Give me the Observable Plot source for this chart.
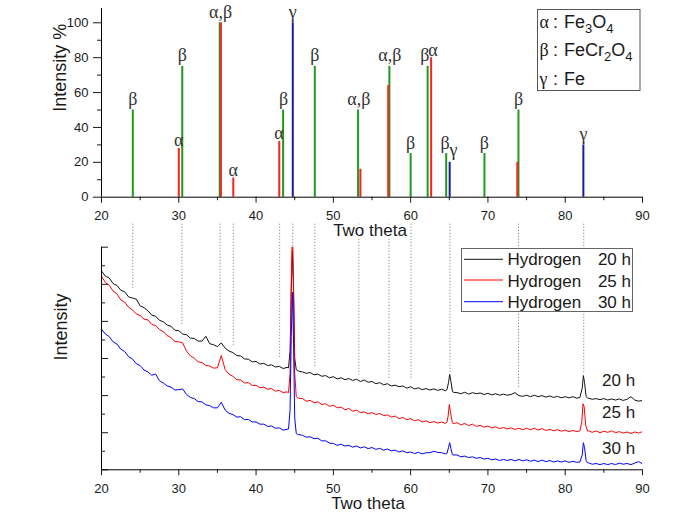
<!DOCTYPE html>
<html><head><meta charset="utf-8">
<script src="https://cdn.jsdelivr.net/npm/d3@7"></script>
<script src="https://cdn.jsdelivr.net/npm/@observablehq/plot@0.6"></script>
<style>
html,body{margin:0;padding:0;background:#fff;}
#wrap{position:relative;width:681px;height:514px;overflow:hidden;}
#top,#bot{position:absolute;left:0;}
#top{top:0;z-index:2;}
#bot{top:215px;z-index:1;}
</style></head>
<body><div id="wrap"><div id="top"></div><div id="bot"></div></div>
<script>
// ---------- reference pattern (top panel) ----------
const alphaPos = [30.0, 35.45, 37.05, 43.0, 53.5, 57.1, 62.65, 73.8];
const alphaInt = [28, 100, 11, 32, 16, 64, 80, 20];
const betaPos = [24.05, 30.45, 35.3, 43.5, 47.6, 53.2, 57.25, 60.0, 62.2, 64.6, 69.55, 73.95];
const betaInt = [50, 75, 100, 50, 75, 50, 75, 25, 75, 25, 25, 50];
const gammaPos = [44.75, 65.05, 82.35];
const gammaInt = [100, 20, 30];

const peakLabelText = ["β","α","β","α,β","α","α","β","γ","β","α,β","α,β","β","β","α","β","γ","β","β","γ"];
const peakLabelX = [24.05,30.0,30.45,35.4,37.05,42.95,43.55,44.75,47.6,53.3,57.3,60.0,61.85,62.9,64.45,65.55,69.55,73.95,82.35];
const peakLabelY = [50,28,75,100,11,32,50,100,75,50,75,25,75,80,25,21,25,50,30];

const legendSymbols = ["α","β","γ"];
const legendFormulas = [["Fe","3","O","4"],["FeCr","2","O","4"],["Fe"]];

// ---------- ticks ----------
const xTicks = [20,30,40,50,60,70,80,90];
const xMinorTicks = [25,35,45,55,65,75,85];
const yTicksTop = [0,20,40,60,80,100];
const yMinorTop = [10,30,50,70,90];
const yTicksBottom = [0,1,2,3,4,5,6];
const yMinorBottom = [0.5,1.5,2.5,3.5,4.5,5.5];

// ---------- measured patterns (bottom panel) ----------
const twoTheta = d3.range(20, 90.001, 0.5); // sampling grid of the read values
const h20 = [
5.36,5.22,5.17,5.02,4.97,4.84,4.80,4.66,4.63,4.60,
4.42,4.37,4.29,4.17,4.14,4.03,3.99,3.90,3.87,3.76,
3.75,3.66,3.64,3.55,3.54,3.47,3.47,3.60,3.40,3.37,
3.32,3.42,3.28,3.20,3.16,3.08,3.07,2.99,2.98,2.91,
2.92,2.85,2.87,2.81,2.83,2.77,2.79,2.73,2.76,null,
null,2.66,2.64,2.60,2.62,2.56,2.58,2.52,2.54,2.48,
2.51,2.45,2.48,2.43,2.46,2.41,2.44,2.38,2.42,2.36,
2.38,2.32,2.35,2.29,2.32,2.26,2.28,2.24,2.26,2.20,
2.24,2.18,2.21,2.16,2.19,2.15,2.18,2.14,2.17,2.13,
null,2.09,2.08,2.05,2.09,2.04,2.08,2.05,2.07,2.03,
2.06,2.02,2.05,2.01,2.04,2.01,2.03,2.08,2.00,1.98,
2.01,1.97,2.01,1.97,2.00,1.96,1.99,1.95,1.98,1.94,
1.97,1.94,1.97,1.93,null,null,1.93,1.90,1.92,1.89,
1.92,1.88,1.91,1.88,1.91,1.87,1.90,1.97,1.88,1.85,
1.87];
const h25 = [
5.22,5.05,4.97,4.82,4.74,4.58,4.52,4.38,4.31,4.20,
4.16,4.06,4.04,3.92,3.89,3.78,3.72,3.62,3.56,3.46,
3.45,3.42,3.20,3.07,3.01,2.91,2.89,2.81,2.80,2.74,
2.75,3.08,2.70,2.58,2.52,2.43,2.42,2.34,2.35,2.27,
2.28,2.21,2.23,2.17,2.19,2.12,2.14,2.08,2.10,null,
null,1.93,1.92,1.85,1.87,1.81,1.83,1.76,1.78,1.71,
1.74,1.67,1.69,1.62,1.65,1.58,1.61,1.54,1.56,1.51,
1.54,1.49,1.52,1.46,1.48,1.42,1.45,1.38,1.41,1.35,
1.38,1.32,1.35,1.29,1.32,1.27,1.30,1.26,1.29,1.25,
null,1.24,1.27,1.21,1.25,1.19,1.23,1.17,1.20,1.15,
1.18,1.13,1.16,1.11,1.14,1.10,1.13,1.09,1.12,1.08,
1.12,1.08,1.12,1.07,1.11,1.06,1.09,1.05,1.08,1.04,
1.07,1.03,1.06,1.03,null,null,1.05,1.01,1.05,1.00,
1.04,1.01,1.05,1.00,1.03,0.99,1.02,0.98,1.02,0.99,
1.03];
const h30 = [
3.79,3.66,3.59,3.45,3.39,3.25,3.19,3.05,2.99,2.86,
2.81,2.69,2.64,2.55,2.58,2.40,2.34,2.26,2.23,2.15,
2.16,2.18,2.03,1.95,1.92,1.84,1.83,1.75,1.73,1.67,
1.67,1.82,1.61,1.52,1.49,1.42,1.43,1.35,1.36,1.29,
1.29,1.23,1.23,1.17,1.18,1.12,1.13,1.07,1.09,null,
null,0.95,0.93,0.88,0.89,0.84,0.85,0.78,0.78,0.72,
0.71,0.66,0.69,0.64,0.66,0.61,0.64,0.59,0.62,0.57,
0.60,0.55,0.58,0.53,0.56,0.51,0.53,0.48,0.51,0.46,
0.48,0.44,0.47,0.43,0.46,0.46,0.50,0.47,0.46,0.43,
null,0.40,0.40,0.35,0.37,0.33,0.35,0.31,0.33,0.29,
0.31,0.27,0.29,0.25,0.28,0.25,0.28,0.24,0.28,0.24,
0.27,0.23,0.26,0.22,0.26,0.22,0.25,0.21,0.24,0.21,
0.24,0.20,0.23,0.20,null,null,0.19,0.15,0.17,0.14,
0.17,0.14,0.17,0.14,0.18,0.15,0.17,0.14,0.18,0.22,
0.16];
const peaks20 = [[44.2,2.75],[44.4,3.2],[44.55,4.8],[44.7,5.9],[44.85,4.8],[45.0,3.0],[45.2,2.7],[45.3,2.68],
  [64.7,2.16],[64.9,2.35],[65.05,2.57],[65.2,2.4],[65.4,2.12],
  [81.9,1.95],[82.2,2.2],[82.35,2.54],[82.5,2.35],[82.7,1.98],[82.9,1.93]];
const peaks25 = [[44.2,2.08],[44.4,2.6],[44.55,5.0],[44.7,6.5],[44.85,5.0],[45.0,2.6],[45.2,1.98],[45.3,1.95],
  [64.7,1.28],[64.85,1.45],[65.0,1.76],[65.15,1.55],[65.4,1.27],
  [81.9,1.05],[82.15,1.3],[82.3,1.78],[82.45,1.7],[82.65,1.2],[82.9,1.04]];
const peaks30 = [[44.2,1.1],[44.4,1.6],[44.55,3.6],[44.72,4.79],[44.85,3.4],[45.0,1.4],[45.2,0.98],[45.3,0.96],
  [64.7,0.44],[64.9,0.6],[65.05,0.73],[65.2,0.58],[65.4,0.41],
  [81.9,0.21],[82.2,0.4],[82.35,0.73],[82.5,0.6],[82.7,0.25],[82.9,0.19]];

const guidePos = [24.05, 30.4, 35.35, 37.05, 43.05, 44.75, 47.6, 53.3, 57.2, 60.05, 65.1, 73.95, 82.4];
const guideEnd = [4.88, 3.91, 3.62, 3.30, 2.99, 5.5, 2.77, 2.55, 2.45, 2.41, 2.59, 2.18, 2.59];
const guideTop = 6.62;

const seriesNames = ["Hydrogen","Hydrogen","Hydrogen"];
const seriesHours = ["20 h","25 h","30 h"];
const seriesColors = ["#111111","#ff0000","#0000ff"];
const curveLabelX = [86.9, 86.9, 86.9];
const curveLabelY = [2.41, 1.53, 0.57];

// ---------- build ----------
const SANS = "Liberation Sans, Arial, sans-serif";
const SERIF = "Liberation Serif, Times New Roman, serif";
const TXT = "#1a1a1a";
const toSticks = (pos, val) => pos.map((x, i) => ({x, y: val[i]}));
const labels = peakLabelText.map((t, i) => ({t, x: peakLabelX[i], y: peakLabelY[i], desc: /[βγ,]/.test(t)}));
function buildSeries(vals, peaks) {
  const pts = twoTheta.map((x, i) => ({x, y: vals[i]})).filter(d => d.y != null);
  for (const [x, y] of peaks) pts.push({x, y});
  return pts.sort((a, b) => a.x - b.x);
}
const s20 = buildSeries(h20, peaks20), s25 = buildSeries(h25, peaks25), s30 = buildSeries(h30, peaks30);
const guides = guidePos.map((x, i) => ({x, y1: guideTop, y2: guideEnd[i]}));
const curveLabels = seriesHours.map((t, i) => ({t, x: curveLabelX[i], y: curveLabelY[i]}));
const blank = () => "";

const topPlot = Plot.plot({
  width: 681, height: 245,
  marginLeft: 101, marginRight: 39, marginTop: 8, marginBottom: 48.3,
  style: {background: "transparent", fontFamily: SANS, color: TXT},
  x: {domain: [20, 90]},
  y: {domain: [0, 108.2]},
  marks: [
    Plot.ruleX(toSticks(betaPos, betaInt), {x: "x", y1: 0, y2: "y", stroke: "#1f9a1f", strokeWidth: 2}),
    Plot.ruleX(toSticks(alphaPos, alphaInt), {x: "x", y1: 0, y2: "y", stroke: "#ff2020", strokeWidth: 2}),
    Plot.ruleX(toSticks(gammaPos, gammaInt), {x: "x", y1: 0, y2: "y", stroke: "#1a1aa0", strokeWidth: 2}),
    Plot.axisX(xTicks, {tickSize: 6, tickPadding: 8, fontSize: 13, label: null}),
    Plot.axisX(xMinorTicks, {tickSize: 3.5, tickFormat: blank, label: null}),
    Plot.axisY(yTicksTop, {tickSize: 8, tickPadding: 5, fontSize: 13, label: null}),
    Plot.axisY(yMinorTop, {tickSize: 4, tickFormat: blank, label: null}),
    Plot.ruleX([20], {stroke: "#000"}),
    Plot.ruleY([0], {stroke: "#000"}),
    Plot.text(labels.filter(d => d.desc), {x: "x", y: "y", text: "t", lineAnchor: "bottom", dy: -5, fontSize: 18, fontFamily: SERIF, fill: "#333"}),
    Plot.text(labels.filter(d => !d.desc), {x: "x", y: "y", text: "t", lineAnchor: "bottom", dy: -2, fontSize: 18, fontFamily: SERIF, fill: "#333"}),
    Plot.text(["Intensity %"], {frameAnchor: "left", rotate: -90, dx: -41, dy: 9, fontSize: 18, fill: TXT}),
    Plot.text(["Two theta"], {frameAnchor: "bottom", lineAnchor: "bottom", dy: 39, dx: -2, fontSize: 17, fill: TXT, stroke: "white", strokeWidth: 5})
  ]
});
document.getElementById("top").appendChild(topPlot);

const botPlot = Plot.plot({
  width: 681, height: 299,
  marginLeft: 101, marginRight: 39, marginTop: 31.7, marginBottom: 44.7,
  style: {background: "transparent", fontFamily: SANS, color: TXT},
  x: {domain: [20, 90]},
  y: {domain: [0, 6]},
  marks: [
    Plot.ruleX(guides, {x: "x", y1: "y1", y2: "y2", stroke: "#8a8a8a", strokeWidth: 1, strokeDasharray: "1.2,1.8"}),
    Plot.line(s20, {x: "x", y: "y", stroke: seriesColors[0], strokeWidth: 1, clip: true}),
    Plot.line(s25, {x: "x", y: "y", stroke: seriesColors[1], strokeWidth: 1, clip: true}),
    Plot.line(s30, {x: "x", y: "y", stroke: seriesColors[2], strokeWidth: 1, clip: true}),
    Plot.axisX(xTicks, {tickSize: 6, tickPadding: 8, fontSize: 13, label: null}),
    Plot.axisX(xMinorTicks, {tickSize: 3.5, tickFormat: blank, label: null}),
    Plot.axisY(yTicksBottom, {tickSize: 7, dx: 7, tickFormat: blank, label: null}),
    Plot.axisY(yMinorBottom, {tickSize: 4, dx: 4, tickFormat: blank, label: null}),
    Plot.ruleX([20], {stroke: "#000"}),
    Plot.ruleY([0], {stroke: "#000"}),
    Plot.text(curveLabels, {x: "x", y: "y", text: "t", fontSize: 17, fill: TXT}),
    Plot.text(["Intensity"], {frameAnchor: "left", rotate: -90, dx: -40, dy: 2, fontSize: 18, fill: TXT}),
    Plot.text(["Two theta"], {frameAnchor: "bottom", lineAnchor: "bottom", dy: 39, dx: -4, fontSize: 17, fill: TXT})
  ]
});
document.getElementById("bot").appendChild(botPlot);

// ---------- legends ----------
const lt = d3.select(topPlot).append("g").attr("text-anchor", "start");
lt.append("rect").attr("x", 537.5).attr("y", 9.5).attr("width", 102.5).attr("height", 81)
  .attr("fill", "white").attr("stroke", "#555");
const topBase = [28.3, 56.2, 84.6];
legendSymbols.forEach((s, i) => {
  const t = lt.append("text").attr("y", topBase[i]).attr("font-size", 18).attr("fill", TXT)
    .attr("text-anchor", "start").style("text-anchor", "start");
  t.append("tspan").attr("x", 539.5).attr("font-family", SERIF).text(s);
  t.append("tspan").attr("x", 553).attr("font-family", SANS).text(":");
  const f = t.append("tspan").attr("x", 564).attr("font-family", SANS);
  legendFormulas[i].forEach((part, j) => {
    const sub = j % 2 === 1;
    f.append("tspan").attr("font-size", sub ? 13 : 18).attr("dy", sub ? 5 : (j > 0 ? -5 : 0)).text(part);
  });
});

const lb = d3.select(botPlot).append("g").attr("text-anchor", "start");
lb.append("rect").attr("x", 461.5).attr("y", 33.5).attr("width", 171).attr("height", 63)
  .attr("fill", "white").attr("stroke", "#666");
const lineY = [44.3, 65, 86.7], textY = [50, 71.7, 93.3];
seriesNames.forEach((n, i) => {
  lb.append("line").attr("x1", 464).attr("x2", 503).attr("y1", lineY[i]).attr("y2", lineY[i])
    .attr("stroke", seriesColors[i]).attr("stroke-width", 1);
  lb.append("text").attr("x", 507.5).attr("y", textY[i]).attr("font-size", 17).attr("font-family", SANS)
    .attr("fill", TXT).style("text-anchor", "start").text(n);
  lb.append("text").attr("x", 631).attr("y", textY[i]).attr("font-size", 17).attr("font-family", SANS)
    .attr("fill", TXT).style("text-anchor", "end").text(seriesHours[i]);
});
</script>
</body></html>
